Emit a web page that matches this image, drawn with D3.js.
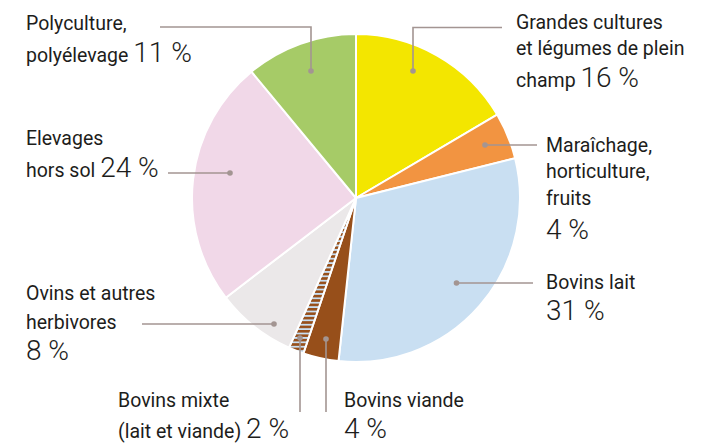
<!DOCTYPE html>
<html lang="fr">
<head>
    <meta charset="UTF-8">
    <title>Répartition par orientation</title>
    <script src="https://d3js.org/d3.v7.min.js"></script>
    <style>
        body { margin: 0; background: #fff; }
        svg { display: block; font-family: Roboto, "Noto Sans", sans-serif; }
        .name { font-size: 19.5px; fill: #1d1d1b; }
        .pct { font-size: 28px; font-weight: 300; fill: #1d1d1b; }
        .leader { fill: none; stroke: #a39592; stroke-width: 1.6; }
    </style>
</head>
<body>
    <svg width="707" height="446"></svg>
    <script>
        // données (ordre horaire depuis midi)
        const categories = ["Grandes cultures", "Maraîchage", "Bovins lait", "Bovins viande",
            "Bovins mixte", "Ovins", "Elevages hors sol", "Polyculture"];
        const shares = [16.5, 4.6, 30.6, 3.5, 1.5, 7.9, 24.4, 11.0];
        const pctLabels = ["16 %", "4 %", "31 %", "4 %", "2 %", "8 %", "24 %", "11 %"];
        const colors = ["#f3e600", "#f29441", "#c9dff2", "#974f1a", "url(#hatch)", "#ebe8e9", "#f1d8e8", "#a6cb67"];

        // texte des étiquettes : chaque ligne, "%" = emplacement du pourcentage
        const labelLines = [
            ["Grandes cultures", "et légumes de plein", "champ %"],
            ["Maraîchage,", "horticulture,", "fruits", "%"],
            ["Bovins lait", "%"],
            ["Bovins viande", "%"],
            ["Bovins mixte", "(lait et viande) %"],
            ["Ovins et autres", "herbivores", "%"],
            ["Elevages", "hors sol %"],
            ["Polyculture,", "polyélevage %"]
        ];

        // mise en page des étiquettes et des traits de rappel
        const layout = [
            { x: 516, ys: [29, 55, 87], leader: [[502, 27.5], [413, 27.5], [413, 71]] },
            { x: 546, ys: [152, 178, 205, 239], leader: [[537, 145], [485, 145]] },
            { x: 546, ys: [289, 320], leader: [[533, 283], [456.5, 283]] },
            { x: 344, ys: [407, 438], leader: [[326, 412], [326, 339]] },
            { x: 118, ys: [407, 438], leader: [[300, 412], [300, 338]] },
            { x: 26, ys: [300, 329, 360], leader: [[142, 324], [274, 324]] },
            { x: 26, ys: [145, 177], leader: [[168, 173], [230, 173]] },
            { x: 26, ys: [30, 62], leader: [[160, 27], [311, 27], [311, 71]] }
        ];

        const svg = d3.select("svg");
        const cx = 356, cy = 198, radius = 164;

        // motif hachuré pour Bovins mixte
        const pat = svg.append("defs").append("pattern")
            .attr("id", "hatch")
            .attr("patternUnits", "userSpaceOnUse")
            .attr("width", 8).attr("height", 4.4);
        pat.append("rect").attr("width", 8).attr("height", 4.4).attr("fill", "#c9dff2");
        pat.append("rect").attr("width", 8).attr("height", 2.6).attr("fill", "#974f1a");

        const data = categories.map((c, i) => ({ name: c, value: shares[i], color: colors[i] }));

        const pie = d3.pie().value(d => d.value).sort(null);
        const arc = d3.arc().innerRadius(0).outerRadius(radius);

        const g = svg.append("g").attr("transform", `translate(${cx},${cy})`);
        g.selectAll("path")
            .data(pie(data))
            .enter()
            .append("path")
            .attr("d", arc)
            .attr("fill", d => d.data.color)
            .attr("stroke", "#fff")
            .attr("stroke-width", 2)
            .attr("stroke-linejoin", "round");

        // traits de rappel
        const line = d3.line();
        layout.forEach(l => {
            svg.append("path").attr("class", "leader").attr("d", line(l.leader));
            const end = l.leader[l.leader.length - 1];
            svg.append("circle").attr("cx", end[0]).attr("cy", end[1]).attr("r", 2.8).attr("fill", "#a39592");
        });

        // étiquettes
        labelLines.forEach((lines, i) => {
            const l = layout[i];
            lines.forEach((txt, j) => {
                const t = svg.append("text").attr("x", l.x).attr("y", l.ys[j]);
                const k = txt.indexOf("%");
                if (k < 0) {
                    t.append("tspan").attr("class", "name").text(txt);
                } else {
                    if (k > 0) t.append("tspan").attr("class", "name").text(txt.slice(0, k));
                    t.append("tspan").attr("class", "pct").text(pctLabels[i]);
                }
            });
        });
    </script>
</body>
</html>
